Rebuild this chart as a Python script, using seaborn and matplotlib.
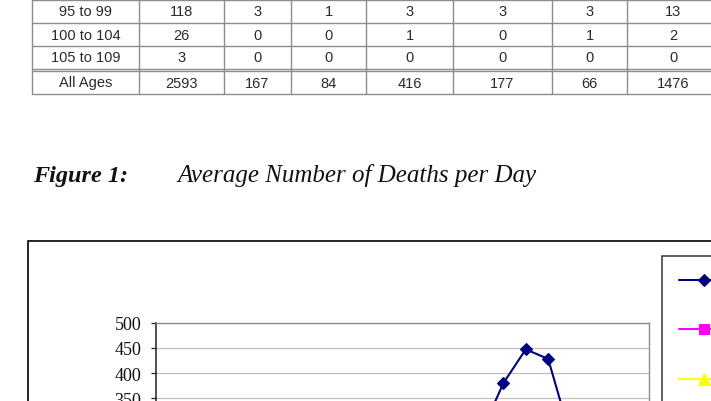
import matplotlib
matplotlib.use("Agg")
import matplotlib.pyplot as plt
import seaborn as sns
import pandas as pd
from matplotlib.patches import Rectangle
from matplotlib.lines import Line2D

# ---------------- table data ----------------
age_groups = ["95 to 99", "100 to 104", "105 to 109", "All Ages"]
col_total = [118, 26, 3, 2593]
col_a = [3, 0, 0, 167]
col_b = [1, 0, 0, 84]
col_c = [3, 1, 0, 416]
col_d = [3, 0, 0, 177]
col_e = [3, 1, 0, 66]
col_f = [13, 2, 0, 1476]

# ---------------- chart data ----------------
periods = list(range(1, 23))
series_names = ["2003", "2004", "2005", "2006"]
series_1 = [250, 255, 248, 252, 260, 258, 262, 255, 250, 258, 265,
            262, 268, 270, 281, 380, 447, 428, 275, 262, 255, 250]
series_2 = [120, 118, 122, 125, 119, 121, 124, 126, 123, 120, 122,
            125, 127, 124, 126, 130, 133, 131, 125, 122, 120, 118]
series_3 = [60, 62, 58, 61, 63, 60, 59, 62, 64, 61, 60,
            63, 62, 60, 61, 64, 66, 65, 62, 60, 59, 58]
series_4 = [30, 31, 29, 32, 30, 31, 33, 30, 29, 31, 32,
            30, 31, 33, 32, 34, 36, 35, 31, 30, 29, 30]
y_ticks = list(range(0, 501, 50))

sns.set_style("white")
plt.rcParams["font.family"] = ["Liberation Serif", "DejaVu Serif"]

W, H = 711, 402
fig = plt.figure(figsize=(W / 100, H / 100), dpi=100)
fig.patch.set_facecolor("white")


def fx(px):
    return px / W


def fy(py):
    return 1 - py / H


# ---------------- table ----------------
tbl_color = "#8c8c8c"
col_edges = [32, 139, 224, 291, 366, 453, 552, 627, 720]
row_lines = [1, 24, 47, 70, 72.3, 95]
for yv in row_lines:
    fig.add_artist(Line2D([fx(32), fx(720)], [fy(yv), fy(yv)],
                          transform=fig.transFigure, color=tbl_color, lw=1.0))
for xv in col_edges:
    fig.add_artist(Line2D([fx(xv), fx(xv)], [fy(-2), fy(95)],
                          transform=fig.transFigure, color=tbl_color, lw=1.0))

row_centers = [12.5, 35.5, 58.5, 83.5]
columns = [age_groups, col_total, col_a, col_b, col_c, col_d, col_e, col_f]
for ci, col in enumerate(columns):
    cx = (col_edges[ci] + col_edges[ci + 1]) / 2
    for ri, val in enumerate(col):
        fig.text(fx(cx), fy(row_centers[ri]), str(val), ha="center", va="center",
                 fontsize=10.5, color="#2a2a2a", family=["Liberation Sans", "DejaVu Sans"])

# ---------------- caption ----------------
fig.text(fx(33), fy(182), "Figure 1:", ha="left", va="baseline", fontsize=17.5,
         fontweight="bold", fontstyle="italic", color="#111111")
fig.text(fx(177), fy(182), "Average Number of Deaths per Day", ha="left", va="baseline",
         fontsize=18, fontstyle="italic", color="#111111")

# ---------------- chart frame ----------------
fig.add_artist(Rectangle((fx(28), -0.5), 1.5, fy(242) + 0.5, transform=fig.transFigure,
                         fill=False, edgecolor="black", lw=1.2))

# ---------------- plot ----------------
top_px, bottom_px = 323.5, 576.5
ax = fig.add_axes([fx(156), fy(bottom_px), (649 - 156) / W, (bottom_px - top_px) / H])
ax.set_facecolor("white")

df = pd.DataFrame({"period": periods, series_names[0]: series_1,
                   series_names[1]: series_2, series_names[2]: series_3,
                   series_names[3]: series_4})
styles = [("#000080", "D", 6.2), ("#FF00FF", "s", 7.0), ("#FFFF00", "^", 8.0),
          ("#00FFFF", "X", 7.5)]
for name, (color, marker, ms) in zip(series_names, styles):
    sns.lineplot(data=df, x="period", y=name, ax=ax, color=color, marker=marker,
                 markersize=ms, markeredgecolor=color, markerfacecolor=color,
                 markeredgewidth=0.8, lw=1.5, label=name)

ax.set_xlim(0.5, 22.5)
ax.set_ylim(0, 500)
ax.set_yticks(y_ticks)
ax.set_yticklabels([str(t) for t in y_ticks])
ax.set_xticks([])
ax.set_xlabel("")
ax.set_ylabel("")
ax.yaxis.grid(True, color="#c0c0c0", lw=0.9)
ax.set_axisbelow(True)
ax.tick_params(axis="y", direction="out", length=3.5, width=0.9, color="#202020",
               pad=7, labelsize=13, labelcolor="#111111", left=True)
for side in ["top", "right", "bottom"]:
    ax.spines[side].set_color("#8c8c8c")
    ax.spines[side].set_linewidth(1.0)
ax.spines["left"].set_color("#202020")
ax.spines["left"].set_linewidth(1.1)

handles, labels = ax.get_legend_handles_labels()
leg = ax.legend(handles, labels, loc="upper left", bbox_to_anchor=(fx(662), fy(257)),
                bbox_transform=fig.transFigure, frameon=True, fancybox=False,
                edgecolor="black", borderaxespad=0, borderpad=0.95, handlelength=2.77,
                labelspacing=1.8, prop={"family": "Liberation Serif", "size": 13})
leg.get_frame().set_linewidth(1.1)

fig.savefig("out.png", dpi=100, facecolor="white")
